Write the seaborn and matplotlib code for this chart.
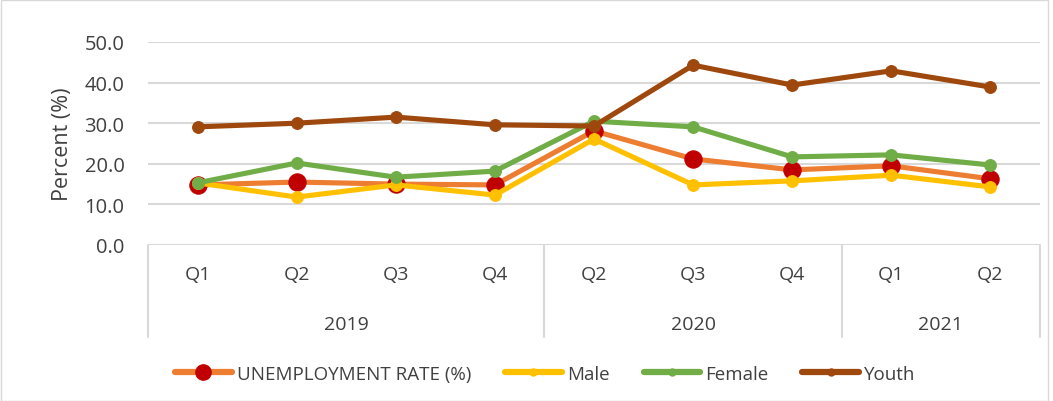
import numpy as np
import pandas as pd
import matplotlib
matplotlib.use("Agg")
import matplotlib.pyplot as plt
import matplotlib.ticker as mticker
from matplotlib.lines import Line2D
from matplotlib.patches import Rectangle
import seaborn as sns

sns.set_style("white")
plt.rcParams["font.family"] = ["Open Sans", "DejaVu Sans"]

quarters = ["Q1", "Q2", "Q3", "Q4", "Q2", "Q3", "Q4", "Q1", "Q2"]
years = ["2019", "2020", "2021"]
year_counts = [4, 3, 2]

unemployment = [14.8, 15.5, 15.0, 14.8, 28.1, 21.2, 18.5, 19.5, 16.3]
male = [15.3, 11.8, 14.8, 12.3, 26.1, 14.8, 15.8, 17.2, 14.3]
female = [15.3, 20.2, 16.7, 18.2, 30.5, 29.1, 21.7, 22.2, 19.7]
youth = [29.1, 30.0, 31.5, 29.6, 29.3, 44.3, 39.4, 42.9, 38.9]

series = {
    "UNEMPLOYMENT RATE (%)": unemployment,
    "Male": male,
    "Female": female,
    "Youth": youth,
}
line_colors = {
    "UNEMPLOYMENT RATE (%)": "#ED7D31",
    "Male": "#FFC000",
    "Female": "#70AD47",
    "Youth": "#9E480E",
}
marker_colors = {
    "UNEMPLOYMENT RATE (%)": "#C00000",
    "Male": "#FFC000",
    "Female": "#70AD47",
    "Youth": "#9E480E",
}
marker_sizes = {"UNEMPLOYMENT RATE (%)": 12.5, "Male": 8.5, "Female": 8.5, "Youth": 8.5}

df = pd.DataFrame(
    [(i, name, v) for name, vals in series.items() for i, v in enumerate(vals)],
    columns=["pos", "series", "value"],
)

fig = plt.figure(figsize=(10.53, 4.02), dpi=100)
ax = fig.add_axes([148 / 1053, 1 - 246 / 402, 892 / 1053, 203 / 402])

for z, name in enumerate(series):
    sub = df[df["series"] == name]
    sns.lineplot(data=sub, x="pos", y="value", ax=ax, color=line_colors[name],
                 linewidth=3.7, marker="o", markersize=marker_sizes[name],
                 markerfacecolor=marker_colors[name], markeredgecolor=marker_colors[name],
                 zorder=3 + z, legend=False)

ax.set_xlim(-0.5, len(quarters) - 0.5)
ax.set_ylim(0, 50)
ax.yaxis.set_major_locator(mticker.MultipleLocator(10))
ax.yaxis.set_major_formatter(mticker.FormatStrFormatter("%.1f"))
ax.grid(axis="y", color="#D9D9D9", linewidth=1.5)
ax.set_axisbelow(True)
for s in ax.spines.values():
    s.set_visible(False)
ax.set_xticks([])
ax.set_xlabel("")
ax.set_ylabel("Percent (%)", fontsize=15.5, color="#404040", labelpad=8)
ax.tick_params(axis="y", labelsize=14.5, colors="#404040", length=0, pad=17)

# multi-level category axis
tr = ax.get_xaxis_transform()
for i, q in enumerate(quarters):
    ax.text(i, -0.145, q, transform=tr, ha="center", va="center",
            fontsize=14, color="#404040")
bounds = np.concatenate([[0], np.cumsum(year_counts)]) - 0.5
for b in bounds:
    ax.add_line(Line2D([b, b], [0, -0.455], transform=tr, color="#D9D9D9",
                       linewidth=1.5, clip_on=False))
for y, lo, hi in zip(years, bounds[:-1], bounds[1:]):
    ax.text((lo + hi) / 2, -0.39, y, transform=tr, ha="center", va="center",
            fontsize=14, color="#404040")

handles = []
for n in series:
    ms = 11 if n == "UNEMPLOYMENT RATE (%)" else 5
    handles.append(Line2D([], [], color=line_colors[n], linewidth=4.5, marker="o",
                          markersize=ms, markerfacecolor=marker_colors[n],
                          markeredgecolor=marker_colors[n]))
fig.legend(handles, list(series), loc="center", bbox_to_anchor=(0.518, 1 - 375 / 402),
           ncol=4, frameon=False, fontsize=13.5, handlelength=3, columnspacing=1.8,
           handletextpad=0.3, labelcolor="#404040")

fig.patches.append(Rectangle((0.001, 0.001), 0.994, 0.997, transform=fig.transFigure,
                             fill=False, edgecolor="#D9D9D9", linewidth=1))

fig.savefig("out.png", dpi=100)
